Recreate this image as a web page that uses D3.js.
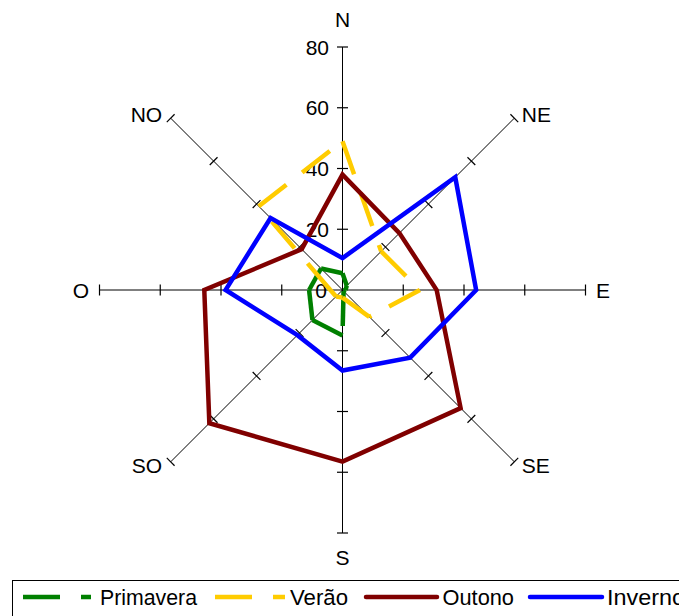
<!DOCTYPE html>
<html>
<head>
<meta charset="utf-8">
<script src="https://cdn.jsdelivr.net/npm/d3@7"></script>
<style>
  html, body { margin: 0; padding: 0; background: #fff; }
  svg { display: block; font-family: "Liberation Sans", Arial, sans-serif; }
</style>
</head>
<body>
<svg id="chart" width="679" height="616"></svg>
<script>
// Wind directions (clockwise from north)
const directions = ["N", "NE", "E", "SE", "S", "SO", "O", "NO"];

// Frequency per direction for each season
const primavera = [5.5, 2, 1, 0.5, 15, 14, 11, 10];
const verao     = [49, 18, 25.5, 12.5, 2.5, 3, 4, 39];
const outono    = [38, 26.5, 31, 55, 56.5, 62, 45.5, 19];
const inverno   = [10.5, 52.5, 44, 31.5, 26.5, 21, 38.5, 33.5];

const seriesNames = ["Primavera", "Verão", "Outono", "Inverno"];
const axisTicks = [20, 40, 60, 80];
const axisLabels = [0, 20, 40, 60, 80];

const series = [
  { name: seriesNames[0], values: primavera, color: "#008000", dashed: true },
  { name: seriesNames[1], values: verao,     color: "#FFCC00", dashed: true },
  { name: seriesNames[2], values: outono,    color: "#800000", dashed: false },
  { name: seriesNames[3], values: inverno,   color: "#0000FF", dashed: false }
];

const svg = d3.select("#chart");
const cx = 342.5, cy = 290;
const R = 243;

const r = d3.scaleLinear().domain([0, 80]).range([0, R]);
const angle = d3.scaleLinear().domain([0, directions.length]).range([0, 2 * Math.PI]);

const pt = (i, v) => {
  const a = angle(i);
  return [cx + r(v) * Math.sin(a), cy - r(v) * Math.cos(a)];
};

// ---- axes ----
const axes = svg.append("g").attr("class", "axes");
directions.forEach((d, i) => {
  const [x1, y1] = pt(i, 0);
  const [x2, y2] = pt(i, 80);
  axes.append("line")
    .attr("x1", x1).attr("y1", y1).attr("x2", x2).attr("y2", y2)
    .attr("stroke", "#000").attr("stroke-width", 1);
  const a = angle(i);
  const px = Math.cos(a), py = Math.sin(a); // perpendicular direction
  axisTicks.forEach(t => {
    const [tx, ty] = pt(i, t);
    axes.append("line")
      .attr("x1", tx - px * 5.5).attr("y1", ty - py * 5.5)
      .attr("x2", tx + px * 5.5).attr("y2", ty + py * 5.5)
      .attr("stroke", "#000").attr("stroke-width", 1.2);
  });
});

// value labels along the north axis
axes.selectAll("text.val")
  .data(axisLabels)
  .join("text")
  .attr("class", "val")
  .attr("x", d => d === 0 ? cx - 15.5 : cx - 13.5)
  .attr("y", d => cy - r(d))
  .attr("dy", "0.36em")
  .attr("text-anchor", "end")
  .attr("font-size", 21)
  .attr("fill", "#000")
  .text(d => d);

// direction labels
directions.forEach((d, i) => {
  const a = angle(i);
  const s = Math.sin(a), c = Math.cos(a);
  const [ex, ey] = pt(i, 80);
  let x = ex, y = ey, anchor = "middle";
  if (Math.abs(s) < 1e-6) {
    y = c > 0 ? ey - 27.5 : ey + 24.5;
  } else if (Math.abs(c) < 1e-6) {
    x = ex + (s > 0 ? 10.5 : -10.5);
    anchor = s > 0 ? "start" : "end";
  } else {
    x = ex + (s > 0 ? 7.5 : -8.5);
    y = ey + (c > 0 ? -4 : 3.5);
    anchor = s > 0 ? "start" : "end";
  }
  svg.append("text")
    .attr("x", x).attr("y", y).attr("dy", "0.36em")
    .attr("text-anchor", anchor)
    .attr("font-size", 21)
    .attr("fill", "#000")
    .text(d);
});

// ---- series ----
const radial = d3.lineRadial()
  .angle((d, i) => angle(i))
  .radius(d => r(d))
  .curve(d3.curveLinearClosed);

const plot = svg.append("g").attr("class", "series");
series.forEach(s => {
  if (s.dashed) {
    // each leg restarts its own dash pattern
    const g = plot.append("g");
    s.values.forEach((v, i) => {
      const j = (i + 1) % s.values.length;
      const [x1, y1] = pt(i, v);
      const [x2, y2] = pt(j, s.values[j]);
      g.append("line")
        .attr("x1", x1).attr("y1", y1).attr("x2", x2).attr("y2", y2)
        .attr("stroke", s.color)
        .attr("stroke-width", 4.5)
        .attr("stroke-dasharray", "35,20");
    });
  } else {
    plot.append("path")
      .attr("transform", `translate(${cx},${cy})`)
      .attr("d", radial(s.values))
      .attr("fill", "none")
      .attr("stroke", s.color)
      .attr("stroke-width", 4.5)
      .attr("stroke-linejoin", "miter");
  }
});

// ---- legend ----
const legend = svg.append("g").attr("class", "legend");
legend.append("rect")
  .attr("x", 12.5).attr("y", 580.5)
  .attr("width", 720).attr("height", 60)
  .attr("fill", "#fff").attr("stroke", "#000").attr("stroke-width", 1);

const legendItems = [
  { x0: 23, x1: 91, tx: 100, tw: 97 },
  { x0: 215, x1: 285, tx: 290, tw: 58 },
  { x0: 366, x1: 437, tx: 442.5, tw: 71.5 },
  { x0: 530, x1: 602, tx: 607, tw: 78 }
];
const ly = 597;
series.forEach((s, i) => {
  const it = legendItems[i];
  legend.append("line")
    .attr("x1", it.x0).attr("y1", ly).attr("x2", it.x1).attr("y2", ly)
    .attr("stroke", s.color)
    .attr("stroke-width", 4.5)
    .attr("stroke-linecap", s.dashed ? "butt" : "round")
    .attr("stroke-dasharray", s.dashed ? "37,21" : null);
  legend.append("text")
    .attr("x", it.tx).attr("y", ly).attr("dy", "0.36em")
    .attr("font-size", 22)
    .attr("textLength", it.tw)
    .attr("lengthAdjust", "spacingAndGlyphs")
    .attr("fill", "#000")
    .text(s.name);
});
</script>
</body>
</html>
